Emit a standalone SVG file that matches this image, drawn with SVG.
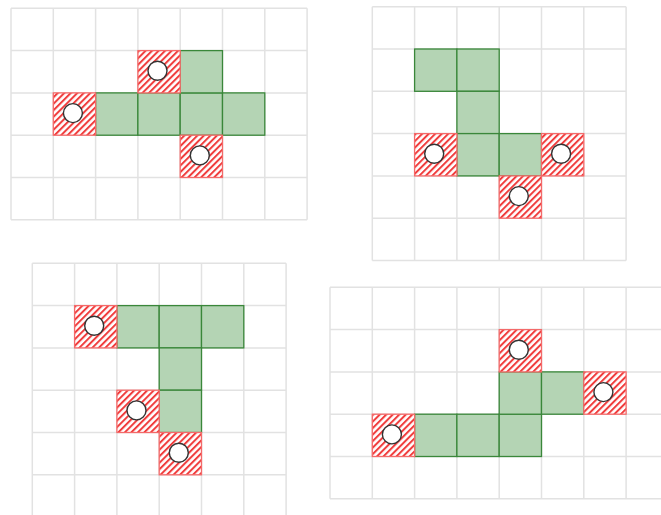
<svg xmlns="http://www.w3.org/2000/svg" width="661" height="515" viewBox="0 0 661 515">
<defs>
<pattern id="hatch" width="4.6" height="6" patternUnits="userSpaceOnUse" patternTransform="rotate(45)">
<rect width="4.6" height="6" fill="#ffffff"/>
<rect width="2" height="6" fill="#f03c3c"/>
</pattern>
<style>
.grid{fill:none;stroke:#e2e2e2;stroke-width:1.5}
.g{fill:#b4d4b4;stroke:#3a873a;stroke-width:1.3}
.r{fill:url(#hatch);stroke:#f46a6a;stroke-width:1.3}
.c{fill:#ffffff;stroke:#333333;stroke-width:1.4}
</style>
</defs>
<rect width="661" height="515" fill="#ffffff"/>

<g id="panel1" transform="translate(11,8.3)">
<path class="grid" d="M0 0V211.5M42.3 0V211.5M84.6 0V211.5M126.9 0V211.5M169.2 0V211.5M211.5 0V211.5M253.8 0V211.5M296.1 0V211.5M0 0H296.1M0 42.3H296.1M0 84.6H296.1M0 126.9H296.1M0 169.2H296.1M0 211.5H296.1"/>
<g id="p1-cells">
<rect class="g" x="84.6" y="84.6" width="42.3" height="42.3"/>
<rect class="g" x="126.9" y="84.6" width="42.3" height="42.3"/>
<rect class="g" x="169.2" y="84.6" width="42.3" height="42.3"/>
<rect class="g" x="211.5" y="84.6" width="42.3" height="42.3"/>
<rect class="g" x="169.2" y="42.3" width="42.3" height="42.3"/>
<rect class="r" x="126.9" y="42.3" width="42.3" height="42.3"/>
<rect class="r" x="42.3" y="84.6" width="42.3" height="42.3"/>
<rect class="r" x="169.2" y="126.9" width="42.3" height="42.3"/>
<circle class="c" cx="146.5" cy="62.5" r="9.5"/>
<circle class="c" cx="61.9" cy="104.8" r="9.5"/>
<circle class="c" cx="188.8" cy="147.1" r="9.5"/>
</g>
</g>

<g id="panel2" transform="translate(372.3,6.7)">
<path class="grid" d="M0 0V253.8M42.3 0V253.8M84.6 0V253.8M126.9 0V253.8M169.2 0V253.8M211.5 0V253.8M253.8 0V253.8M0 0H253.8M0 42.3H253.8M0 84.6H253.8M0 126.9H253.8M0 169.2H253.8M0 211.5H253.8M0 253.8H253.8"/>
<g id="p2-cells">
<rect class="g" x="42.3" y="42.3" width="42.3" height="42.3"/>
<rect class="g" x="84.6" y="42.3" width="42.3" height="42.3"/>
<rect class="g" x="84.6" y="84.6" width="42.3" height="42.3"/>
<rect class="g" x="84.6" y="126.9" width="42.3" height="42.3"/>
<rect class="g" x="126.9" y="126.9" width="42.3" height="42.3"/>
<rect class="r" x="42.3" y="126.9" width="42.3" height="42.3"/>
<rect class="r" x="169.2" y="126.9" width="42.3" height="42.3"/>
<rect class="r" x="126.9" y="169.2" width="42.3" height="42.3"/>
<circle class="c" cx="61.9" cy="147.1" r="9.5"/>
<circle class="c" cx="188.8" cy="147.1" r="9.5"/>
<circle class="c" cx="146.5" cy="189.4" r="9.5"/>
</g>
</g>

<g id="panel3" transform="translate(32.3,263.3)">
<path class="grid" d="M0 0V252M42.3 0V252M84.6 0V252M126.9 0V252M169.2 0V252M211.5 0V252M253.8 0V252M0 0H253.8M0 42.3H253.8M0 84.6H253.8M0 126.9H253.8M0 169.2H253.8M0 211.5H253.8"/>
<g id="p3-cells">
<rect class="g" x="84.6" y="42.3" width="42.3" height="42.3"/>
<rect class="g" x="126.9" y="42.3" width="42.3" height="42.3"/>
<rect class="g" x="169.2" y="42.3" width="42.3" height="42.3"/>
<rect class="g" x="126.9" y="84.6" width="42.3" height="42.3"/>
<rect class="g" x="126.9" y="126.9" width="42.3" height="42.3"/>
<rect class="r" x="42.3" y="42.3" width="42.3" height="42.3"/>
<rect class="r" x="84.6" y="126.9" width="42.3" height="42.3"/>
<rect class="r" x="126.9" y="169.2" width="42.3" height="42.3"/>
<circle class="c" cx="61.9" cy="62.5" r="9.5"/>
<circle class="c" cx="104.2" cy="147.1" r="9.5"/>
<circle class="c" cx="146.5" cy="189.4" r="9.5"/>
</g>
</g>

<g id="panel4" transform="translate(330,287.3)">
<path class="grid" d="M0 0V211.5M42.3 0V211.5M84.6 0V211.5M126.9 0V211.5M169.2 0V211.5M211.5 0V211.5M253.8 0V211.5M296.1 0V211.5M0 0H331M0 42.3H331M0 84.6H331M0 126.9H331M0 169.2H331M0 211.5H331"/>
<g id="p4-cells">
<rect class="g" x="84.6" y="126.9" width="42.3" height="42.3"/>
<rect class="g" x="126.9" y="126.9" width="42.3" height="42.3"/>
<rect class="g" x="169.2" y="126.9" width="42.3" height="42.3"/>
<rect class="g" x="169.2" y="84.6" width="42.3" height="42.3"/>
<rect class="g" x="211.5" y="84.6" width="42.3" height="42.3"/>
<rect class="r" x="169.2" y="42.3" width="42.3" height="42.3"/>
<rect class="r" x="253.8" y="84.6" width="42.3" height="42.3"/>
<rect class="r" x="42.3" y="126.9" width="42.3" height="42.3"/>
<circle class="c" cx="188.8" cy="62.5" r="9.5"/>
<circle class="c" cx="273.4" cy="104.8" r="9.5"/>
<circle class="c" cx="61.9" cy="147.1" r="9.5"/>
</g>
</g>
</svg>
